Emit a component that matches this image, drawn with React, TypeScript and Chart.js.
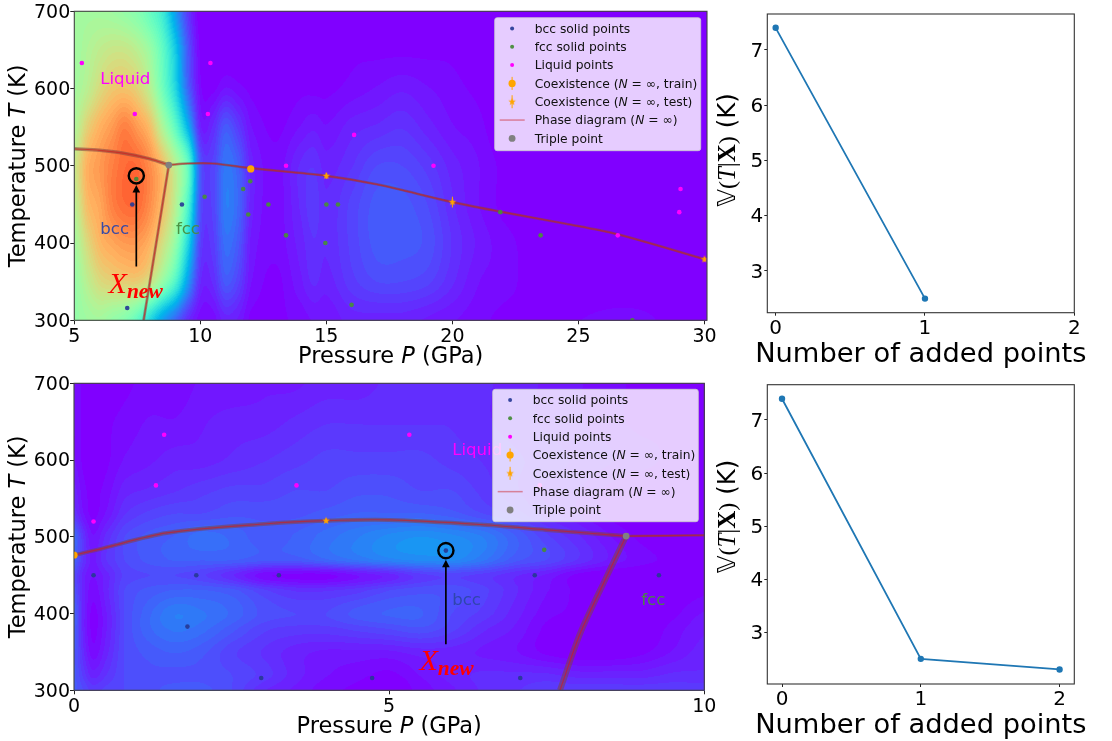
import React, { useEffect, useRef } from "react";
import { Chart, registerables } from "chart.js";

Chart.register(...registerables);
Chart.defaults.font.family = "'DejaVu Sans'";
Chart.defaults.color = "#000";

type Pair = [number, number];

/* ---------- upper phase diagram (5-30 GPa) ---------- */
const topPressureKnots = [5, 5.5, 6, 6.5, 7, 7.5, 8, 8.5, 9, 9.5, 10, 10.5, 11, 11.5, 12, 13, 14, 14.5, 15, 16, 17, 18, 19, 20, 21, 22, 24, 27, 30];
const topTemperatureKnots = [300, 350, 400, 450, 500, 550, 600, 650, 700];
const topVariance = [
  [.55, .57, .58, .55, .52, .45, .33, .22, .14, .06, .02, .02, .05, .04, .01, .01, .02, .03, .03, .05, .05, .05, .04, .03, .02, .01, .01, .02, 0],
  [.55, .62, .68, .70, .71, .71, .66, .55, .42, .22, .06, .06, .12, .09, .03, .01, .04, .06, .05, .08, .10, .10, .09, .06, .03, .02, 0, 0, 0],
  [.58, .68, .75, .78, .80, .80, .76, .67, .55, .33, .09, .08, .15, .12, .04, .02, .05, .07, .06, .09, .12, .12, .11, .07, .04, .02, 0, 0, 0],
  [.62, .74, .78, .84, .87, .87, .82, .74, .62, .42, .11, .09, .17, .14, .05, .02, .06, .08, .06, .09, .12, .12, .10, .06, .03, .01, 0, 0, 0],
  [.65, .76, .80, .84, .87, .87, .82, .74, .62, .46, .12, .09, .16, .13, .05, .02, .06, .07, .05, .07, .10, .10, .08, .05, .03, .01, 0, 0, 0],
  [.60, .70, .76, .80, .84, .80, .74, .60, .45, .26, .05, .06, .12, .08, .03, .01, .03, .04, .03, .05, .06, .07, .05, .03, .02, 0, 0, 0, 0],
  [.58, .62, .68, .72, .73, .70, .62, .48, .33, .14, .02, .01, .03, .02, .01, 0, .01, .01, .01, .02, .03, .04, .03, .02, .01, 0, 0, 0, 0],
  [.57, .60, .63, .65, .65, .62, .56, .45, .30, .12, .01, 0, 0, 0, 0, 0, 0, 0, 0, .01, .01, .01, .01, .01, 0, 0, 0, 0, 0],
  [.58, .58, .58, .57, .55, .52, .46, .38, .22, .08, 0, 0, 0, 0, 0, 0, 0, 0, 0, 0, 0, 0, 0, 0, 0, 0, 0, 0, 0],
];
const topBcc: Pair[] = [[7.3, 450], [9.27, 450], [7.1, 316]];
const topFcc: Pair[] = [[7.46, 483], [10.17, 460], [11.7, 470], [11.98, 480], [11.9, 437], [12.7, 450], [13.4, 410], [15, 450], [15.46, 450], [14.96, 400], [16, 320], [21.9, 440], [23.5, 410], [27.14, 300]];
const topLiquid: Pair[] = [[5.3, 633], [7.4, 567], [10.4, 633], [10.3, 567], [13.4, 500], [16.1, 540], [19.25, 500], [29.05, 470], [29, 440], [26.56, 410]];
const topTrain: Pair[] = [[12, 496]];
const topTrainErr = [3];
const topTest: Pair[] = [[15, 487], [20, 453], [30, 379]];
const topTestErr = [4, 7, 3];
const topTriple: Pair[] = [[8.75, 501]];
const topBccLiquid: Pair[] = [[5, 522], [6, 520], [7, 516], [8, 509], [8.75, 501]];
const topFccLiquid: Pair[] = [[8.75, 501], [9.5, 503], [10.5, 503], [12, 497], [15, 487], [17, 476], [20, 453], [22, 440], [24.5, 425], [26.6, 411], [30, 379]];
const topBccFcc: Pair[] = [[8.75, 501], [8.25, 400], [7.75, 300]];
const topQuery: Pair = [7.46, 487];
const topArrow: [Pair, Pair] = [[7.46, 369.5], [7.46, 475]];
const topXTicks = [5, 10, 15, 20, 25, 30];

/* ---------- lower phase diagram (0-10 GPa) ---------- */
const botPressureKnots = [0, .15, .3, .5, .8, 1.2, 1.6, 2, 2.5, 3, 3.5, 4, 4.5, 5, 5.5, 6, 6.5, 7, 7.5, 8, 8.5, 9, 9.5, 10];
const botTemperatureKnots = [300, 320, 350, 380, 400, 430, 450, 470, 500, 530, 560, 600, 650, 700];
const botVariance = [
  [.12, .10, .08, .09, .10, .11, .12, .12, .10, .06, .04, .02, .01, 0, .02, .04, .06, .07, .08, .08, .08, .08, .08, .08],
  [.12, .08, .05, .07, .10, .11, .11, .11, .10, .08, .05, .03, .02, .01, .03, .05, .06, .06, .06, .05, .05, .05, .06, .06],
  [.12, .06, .02, .05, .10, .12, .13, .12, .09, .07, .05, .04, .04, .04, .05, .05, .04, .03, .01, 0, 0, .01, .03, .05],
  [.13, .05, .01, .04, .10, .14, .16, .15, .12, .09, .08, .08, .09, .10, .11, .09, .06, .04, .01, 0, 0, 0, .02, .04],
  [.13, .05, .01, .04, .10, .14, .17, .16, .14, .11, .10, .10, .12, .13, .13, .10, .08, .05, .02, .01, 0, 0, .01, .03],
  [.11, .05, .02, .05, .10, .12, .13, .13, .12, .09, .07, .07, .08, .10, .11, .11, .09, .06, .03, .01, 0, 0, 0, .01],
  [.10, .05, .03, .05, .09, .10, .10, .09, .06, .02, .01, .01, .03, .05, .08, .09, .08, .06, .04, .01, 0, 0, 0, 0],
  [.13, .07, .04, .07, .10, .12, .13, .13, .13, .12, .12, .14, .16, .18, .19, .19, .16, .12, .10, .07, .04, .02, .01, 0],
  [.14, .07, .03, .06, .10, .12, .13, .15, .14, .12, .13, .15, .17, .19, .20, .19, .17, .13, .09, .06, .03, .01, 0, 0],
  [.07, .03, .01, .03, .07, .09, .10, .10, .11, .11, .11, .12, .13, .13, .13, .12, .10, .08, .05, .03, .01, 0, 0, 0],
  [.05, .02, .01, .02, .05, .06, .07, .08, .09, .09, .10, .10, .11, .11, .10, .10, .08, .06, .04, .03, .01, 0, 0, 0],
  [.03, .01, 0, .01, .03, .04, .05, .05, .06, .07, .08, .09, .09, .09, .09, .08, .07, .06, .05, .04, .03, .02, .01, 0],
  [.03, .01, 0, .01, .02, .03, .03, .04, .05, .05, .06, .07, .07, .07, .07, .07, .06, .05, .04, .03, .02, .01, .01, 0],
  [.03, .01, 0, 0, .01, .02, .02, .03, .03, .04, .04, .05, .05, .06, .06, .07, .06, .05, .04, .03, .02, .01, .01, .01],
];
const botBcc: Pair[] = [[.31, 450], [1.94, 450], [3.25, 450], [1.8, 383], [2.97, 316], [4.73, 316], [5.9, 482], [7.31, 450], [9.28, 450], [7.08, 316]];
const botFcc: Pair[] = [[7.46, 483]];
const botLiquid: Pair[] = [[1.43, 633], [1.3, 567], [.31, 520], [3.53, 567], [5.32, 633], [7.39, 567]];
const botTrain: Pair[] = [[0, 476]];
const botTrainErr = [4];
const botTest: Pair[] = [[4, 521]];
const botTestErr = [3];
const botTriple: Pair[] = [[8.76, 501]];
const botBccLiquid: Pair[] = [[0, 476], [.41, 484], [1.47, 505], [3.06, 517], [4, 521], [5, 522], [6.44, 516], [7.5, 509], [8.76, 501]];
const botFccLiquid: Pair[] = [[8.76, 501], [10, 502]];
const botBccFcc: Pair[] = [[8.76, 501], [8.45, 448], [8.03, 374], [7.71, 300]];
const botQuery: Pair = [5.9, 482];
const botArrow: [Pair, Pair] = [[5.9, 360], [5.9, 470]];
const botXTicks = [0, 5, 10];

const temperatureTicks = [300, 400, 500, 600, 700];

/* ---------- variance curves ---------- */
const topAdded = [0, 1];
const topVarianceCurve = [7.4, 2.5];
const botAdded = [0, 1, 2];
const botVarianceCurve = [7.4, 2.5, 2.3];
const addedTicks = [0, 1, 2];
const varianceTicks = [3, 4, 5, 6, 7];

/* ---------- legend text ---------- */
const legendBcc = "bcc solid points";
const legendFcc = "fcc solid points";
const legendLiquid = "Liquid points";
const legendTriple = "Triple point";

const BCC = "rgba(38,58,150,0.92)";
const FCC = "rgba(72,140,60,0.95)";
const LIQ = "#ff00ff";
const ORANGE = "#ffa500";
const GREY = "#808080";
const BAND = "rgba(130,65,65,0.55)";
const CENTER = "rgba(205,30,30,0.65)";
const SANS = "'DejaVu Sans'";
const SERIF = "'Liberation Serif'";

type Run = { t: string; f: string; dy?: number };

function drawRuns(ctx: CanvasRenderingContext2D, runs: Run[], x: number, y: number, rot = 0, align: "left" | "center" = "center") {
  ctx.save();
  ctx.translate(x, y);
  ctx.rotate(rot);
  ctx.textBaseline = "alphabetic";
  ctx.textAlign = "left";
  let total = 0;
  for (const r of runs) { ctx.font = r.f; total += ctx.measureText(r.t).width; }
  let cx = align === "center" ? -total / 2 : 0;
  for (const r of runs) {
    ctx.font = r.f;
    ctx.fillText(r.t, cx, r.dy ?? 0);
    cx += ctx.measureText(r.t).width;
  }
  ctx.restore();
}

function rainbow(v: number): [number, number, number] {
  const c = (u: number) => Math.max(0, Math.min(255, Math.round(u * 255)));
  return [c(Math.abs(2 * v - 0.5)), c(Math.sin(Math.PI * v)), c(Math.cos((Math.PI * v) / 2))];
}

function fracIndex(knots: number[], x: number) {
  if (x <= knots[0]) return 0;
  for (let i = 0; i < knots.length - 1; i++) {
    if (x <= knots[i + 1]) return i + (x - knots[i]) / (knots[i + 1] - knots[i]);
  }
  return knots.length - 1;
}

function cubic(a: number, b: number, c: number, d: number, t: number) {
  return b + 0.5 * t * (c - a + t * (2 * a - 5 * b + 4 * c - d + t * (3 * (b - c) + d - a)));
}

function sampleGrid(grid: number[][], xk: number[], yk: number[], x: number, y: number) {
  const fx = fracIndex(xk, x), fy = fracIndex(yk, y);
  const ix = Math.min(Math.floor(fx), xk.length - 2), iy = Math.min(Math.floor(fy), yk.length - 2);
  const tx = fx - ix, ty = fy - iy;
  const at = (r: number, c: number) => grid[Math.max(0, Math.min(yk.length - 1, r))][Math.max(0, Math.min(xk.length - 1, c))];
  const rows = [-1, 0, 1, 2].map((dr) => cubic(at(iy + dr, ix - 1), at(iy + dr, ix), at(iy + dr, ix + 1), at(iy + dr, ix + 2), tx));
  return Math.max(0, cubic(rows[0], rows[1], rows[2], rows[3], ty));
}

function heatPlugin(grid: number[][], xk: number[], yk: number[]) {
  return {
    id: "heat",
    beforeDatasetsDraw(chart: any) {
      const { left, top, right, bottom } = chart.chartArea;
      const x0 = Math.floor(left), y0 = Math.floor(top);
      const w = Math.ceil(right) - x0, h = Math.ceil(bottom) - y0;
      const off = document.createElement("canvas");
      off.width = w; off.height = h;
      const octx = off.getContext("2d")!;
      const img = octx.createImageData(w, h);
      const xs = chart.scales.x, ys = chart.scales.y;
      const levels = 70;
      for (let j = 0; j < h; j++) {
        const T = ys.getValueForPixel(y0 + j + 0.5);
        for (let i = 0; i < w; i++) {
          const P = xs.getValueForPixel(x0 + i + 0.5);
          const v = Math.floor(sampleGrid(grid, xk, yk, P, T) * levels) / levels;
          const [r, g, b] = rainbow(v);
          const k = 4 * (j * w + i);
          img.data[k] = r; img.data[k + 1] = g; img.data[k + 2] = b; img.data[k + 3] = 255;
        }
      }
      octx.putImageData(img, 0, 0);
      chart.ctx.drawImage(off, x0, y0);
    },
  };
}

function starImage(r: number, color: string) {
  const c = document.createElement("canvas");
  c.width = c.height = Math.ceil(2 * r + 2);
  const g = c.getContext("2d")!;
  g.translate(c.width / 2, c.height / 2);
  g.beginPath();
  for (let i = 0; i < 10; i++) {
    const rad = i % 2 ? r * 0.42 : r;
    const a = -Math.PI / 2 + (i * Math.PI) / 5;
    g.lineTo(rad * Math.cos(a), rad * Math.sin(a));
  }
  g.closePath();
  g.fillStyle = color;
  g.fill();
  return c;
}

const xy = (pairs: Pair[]) => pairs.map(([x, y]) => ({ x, y }));

function spinePlugin(color: string) {
  return {
    id: "spine",
    afterDatasetsDraw(chart: any) {
      const { left, top, right, bottom } = chart.chartArea;
      const ctx = chart.ctx;
      ctx.save();
      ctx.strokeStyle = color;
      ctx.lineWidth = 1.1;
      ctx.strokeRect(left, top, right - left, bottom - top);
      ctx.restore();
    },
  };
}

type PhaseSpec = {
  area: { canvasH: number; left: number; right: number; top: number; bottom: number };
  xMin: number; xMax: number; xTicks: number[];
  yMin: number; yMax: number;
  grid: number[][]; xk: number[]; yk: number[];
  bcc: Pair[]; fcc: Pair[]; liquid: Pair[]; train: Pair[]; test: Pair[]; triple: Pair[];
  trainErr: number[]; testErr: number[];
  lines: Pair[][]; bandWidths: number[];
  query: Pair; arrow: [Pair, Pair];
  labelLiquid: Pair; labelBcc: Pair; labelFcc: Pair; labelNew: Pair;
  legendBox: { x: number; y: number; w: number; h: number };
};

function phasePlugin(s: PhaseSpec) {
  return {
    id: "phaseOverlay",
    afterDatasetsDraw(chart: any) {
      const ctx: CanvasRenderingContext2D = chart.ctx;
      const xs = chart.scales.x, ys = chart.scales.y;
      const px = (p: Pair): Pair => [xs.getPixelForValue(p[0]), ys.getPixelForValue(p[1])];
      const { left, top, right, bottom } = chart.chartArea;
      ctx.save();
      ctx.beginPath();
      ctx.rect(left, top, right - left, bottom - top);
      ctx.clip();
      // coexistence error bars
      ctx.strokeStyle = ORANGE;
      ctx.lineWidth = 1;
      const bar = (pts: Pair[], errs: number[]) => pts.forEach(([p, t], i) => {
        ctx.beginPath();
        ctx.moveTo(...px([p, t - errs[i]]));
        ctx.lineTo(...px([p, t + errs[i]]));
        ctx.stroke();
      });
      bar(s.train, s.trainErr);
      bar(s.test, s.testErr);
      // region labels
      ctx.textBaseline = "middle";
      ctx.textAlign = "left";
      ctx.font = `16.6px ${SANS}`;
      ctx.fillStyle = LIQ;
      ctx.fillText("Liquid", ...px(s.labelLiquid));
      ctx.fillStyle = "rgba(45,70,170,0.95)";
      ctx.fillText("bcc", ...px(s.labelBcc));
      ctx.fillStyle = "rgba(72,140,60,0.95)";
      ctx.fillText("fcc", ...px(s.labelFcc));
      // query marker and arrow
      const [qx, qy] = px(s.query);
      ctx.strokeStyle = "#000";
      ctx.lineWidth = 2.4;
      ctx.beginPath();
      ctx.arc(qx, qy, 7.6, 0, Math.PI * 2);
      ctx.stroke();
      const [a0, a1] = s.arrow;
      const [ax0, ay0] = px(a0), [ax1, ay1] = px(a1);
      ctx.lineWidth = 1.7;
      ctx.beginPath();
      ctx.moveTo(ax0, ay0);
      ctx.lineTo(ax1, ay1 + 6);
      ctx.stroke();
      ctx.fillStyle = "#000";
      ctx.beginPath();
      ctx.moveTo(ax1, ay1);
      ctx.lineTo(ax1 - 3.8, ay1 + 7.5);
      ctx.lineTo(ax1 + 3.8, ay1 + 7.5);
      ctx.closePath();
      ctx.fill();
      // X_new
      ctx.fillStyle = "#ff0000";
      const [nx, ny] = px(s.labelNew);
      drawRuns(ctx, [
        { t: "X", f: `italic 30px ${SERIF}` },
        { t: "new", f: `italic bold 21.5px ${SERIF}`, dy: 5 },
      ], nx, ny, 0, "left");
      ctx.restore();

      // legend
      const b = s.legendBox;
      ctx.save();
      ctx.fillStyle = "rgba(255,255,255,0.8)";
      ctx.strokeStyle = "rgba(204,204,204,0.8)";
      ctx.lineWidth = 1;
      ctx.beginPath();
      ctx.roundRect(b.x, b.y, b.w, b.h, 2.5);
      ctx.fill();
      ctx.stroke();
      const hx = b.x + 17.4, tx = b.x + 40, f = `12.3px ${SANS}`, fi = `italic 12.3px ${SANS}`;
      const rowY = (i: number) => b.y + 10.7 + i * 18.33;
      const dot = (i: number, r: number, c: string) => {
        ctx.fillStyle = c;
        ctx.beginPath();
        ctx.arc(hx, rowY(i), r, 0, Math.PI * 2);
        ctx.fill();
      };
      dot(0, 2, BCC); dot(1, 2, FCC); dot(2, 2, LIQ);
      ctx.strokeStyle = ORANGE; ctx.lineWidth = 1;
      for (const i of [3, 4]) {
        ctx.beginPath();
        ctx.moveTo(hx, rowY(i) - 6.5);
        ctx.lineTo(hx, rowY(i) + 6.5);
        ctx.stroke();
      }
      dot(3, 3.6, ORANGE);
      const st = starImage(4, ORANGE);
      ctx.drawImage(st, hx - st.width / 2, rowY(4) - st.height / 2);
      ctx.strokeStyle = "rgba(205,60,70,0.55)"; ctx.lineWidth = 1.5;
      ctx.beginPath();
      ctx.moveTo(b.x + 5, rowY(5));
      ctx.lineTo(b.x + 30, rowY(5));
      ctx.stroke();
      dot(6, 3.4, GREY);
      ctx.fillStyle = "#111";
      const put = (i: number, runs: Run[]) => drawRuns(ctx, runs, tx, rowY(i) + 4.4, 0, "left");
      put(0, [{ t: legendBcc, f }]);
      put(1, [{ t: legendFcc, f }]);
      put(2, [{ t: legendLiquid, f }]);
      put(3, [{ t: "Coexistence (", f }, { t: "N", f: fi }, { t: " = \u221E, train)", f }]);
      put(4, [{ t: "Coexistence (", f }, { t: "N", f: fi }, { t: " = \u221E, test)", f }]);
      put(5, [{ t: "Phase diagram (", f }, { t: "N", f: fi }, { t: " = \u221E)", f }]);
      put(6, [{ t: legendTriple, f }]);

      // math-styled axis titles
      ctx.fillStyle = "#000";
      const F = `22.5px ${SANS}`, FI = `italic 22.5px ${SANS}`;
      drawRuns(ctx, [{ t: "Pressure ", f: F }, { t: "P", f: FI }, { t: " (GPa)", f: F }], (left + right) / 2, 362.7);
      drawRuns(ctx, [{ t: "Temperature ", f: F }, { t: "T", f: FI }, { t: " (K)", f: F }], 25, (top + bottom) / 2, -Math.PI / 2);
      ctx.restore();
    },
  };
}

function phaseConfig(s: PhaseSpec): any {
  const a = s.area;
  const lineSets = s.lines.flatMap((l, i) => [
    { data: xy(l), showLine: true, borderColor: BAND, borderWidth: s.bandWidths[i], pointRadius: 0, order: 9, tension: 0.3 },
    { data: xy(l), showLine: true, borderColor: CENTER, borderWidth: 1.2, pointRadius: 0, order: 8, tension: 0.3 },
  ]);
  return {
    type: "scatter",
    data: {
      datasets: [
        ...lineSets,
        { label: legendBcc, data: xy(s.bcc), pointRadius: 2.3, backgroundColor: BCC, borderWidth: 0, order: 5 },
        { label: legendFcc, data: xy(s.fcc), pointRadius: 2.3, backgroundColor: FCC, borderWidth: 0, order: 5 },
        { label: legendLiquid, data: xy(s.liquid), pointRadius: 2.3, backgroundColor: LIQ, borderWidth: 0, order: 5 },
        { data: xy(s.train), pointRadius: 3.6, backgroundColor: ORANGE, borderWidth: 0, order: 3 },
        { data: xy(s.test), pointStyle: starImage(4, ORANGE), pointRadius: 4, order: 3 },
        { label: legendTriple, data: xy(s.triple), pointRadius: 3.4, backgroundColor: GREY, borderWidth: 0, order: 2 },
      ],
    },
    options: {
      animation: false,
      responsive: false,
      layout: { padding: { top: a.top, right: 735 - a.right, left: 0, bottom: 0 } },
      plugins: { legend: { display: false }, tooltip: { enabled: false } },
      scales: {
        x: {
          type: "linear", min: s.xMin, max: s.xMax,
          grid: { drawOnChartArea: false, drawTicks: true, tickLength: 4, color: "#222" },
          border: { display: false },
          afterBuildTicks: (sc: any) => { sc.ticks = s.xTicks.map((value) => ({ value })); },
          afterFit: (sc: any) => { sc.height = a.canvasH - a.bottom; sc.paddingLeft = sc.paddingRight = 0; },
          ticks: { font: { size: 19 }, padding: 1, maxRotation: 0, autoSkip: false, color: "#000" },
        },
        y: {
          type: "linear", min: s.yMin, max: s.yMax,
          grid: { drawOnChartArea: false, drawTicks: true, tickLength: 4, color: "#222" },
          border: { display: false },
          afterBuildTicks: (sc: any) => { sc.ticks = temperatureTicks.map((value) => ({ value })); },
          afterFit: (sc: any) => { sc.width = a.left; sc.paddingTop = sc.paddingBottom = 0; },
          ticks: { font: { size: 19 }, padding: 0, labelOffset: 1.5, color: "#000" },
        },
      },
    },
    plugins: [heatPlugin(s.grid, s.xk, s.yk), spinePlugin("#444"), phasePlugin(s)],
  };
}

function curvePlugin(yTitleCenter: number, xTitleBase: number) {
  return {
    id: "curveTitle",
    afterDraw(chart: any) {
      const ctx = chart.ctx;
      const { left, right } = chart.chartArea;
      ctx.save();
      ctx.fillStyle = "#000";
      const F = `24.5px ${SANS}`;
      drawRuns(ctx, [
        { t: "\u{1D54D}", f: F },
        { t: "(", f: `24px ${SERIF}` },
        { t: "T", f: `italic 25px ${SERIF}` },
        { t: "|", f: `25px ${SERIF}` },
        { t: "X", f: `bold 25px ${SERIF}` },
        { t: ")", f: `24px ${SERIF}` },
        { t: " (K)", f: F },
      ], 25, yTitleCenter, -Math.PI / 2);
      ctx.font = `27.3px ${SANS}`;
      ctx.textAlign = "center";
      ctx.textBaseline = "alphabetic";
      ctx.fillText("Number of added points", (left + right) / 2, xTitleBase);
      ctx.restore();
    },
  };
}

function curveConfig(added: number[], values: number[], a: any, xMin: number, xMax: number, yMin: number, yMax: number): any {
  return {
    type: "scatter",
    data: {
      datasets: [{
        data: added.map((x, i) => ({ x, y: values[i] })),
        showLine: true,
        borderColor: "#1f77b4",
        backgroundColor: "#1f77b4",
        borderWidth: 1.8,
        pointRadius: 2.3,
        borderCapStyle: "round",
      }],
    },
    options: {
      animation: false,
      responsive: false,
      layout: { padding: { top: a.top, right: 402 - a.right, left: 0, bottom: 0 } },
      plugins: { legend: { display: false }, tooltip: { enabled: false } },
      scales: {
        x: {
          type: "linear", min: xMin, max: xMax,
          grid: { drawOnChartArea: false, tickLength: 3, color: "#222" },
          border: { display: false },
          afterBuildTicks: (sc: any) => { sc.ticks = addedTicks.map((value) => ({ value })); },
          afterFit: (sc: any) => { sc.height = a.canvasH - a.bottom; sc.paddingLeft = sc.paddingRight = 0; },
          ticks: { font: { size: 20 }, padding: 1, maxRotation: 0, autoSkip: false, color: "#000" },
        },
        y: {
          type: "linear", min: yMin, max: yMax,
          grid: { drawOnChartArea: false, tickLength: 3, color: "#222" },
          border: { display: false },
          afterBuildTicks: (sc: any) => { sc.ticks = varianceTicks.map((value) => ({ value })); },
          afterFit: (sc: any) => { sc.width = a.left; sc.paddingTop = sc.paddingBottom = 0; },
          ticks: { font: { size: 20 }, padding: 1, labelOffset: 1.5, color: "#000" },
        },
      },
    },
    plugins: [spinePlugin("#333"), curvePlugin(a.yTitle, a.xTitle)],
  };
}

const topSpec: PhaseSpec = {
  area: { canvasH: 370, left: 74.3, right: 707, top: 11.3, bottom: 320.3 },
  xMin: 5, xMax: 30.1, xTicks: topXTicks, yMin: 300, yMax: 700,
  grid: topVariance, xk: topPressureKnots, yk: topTemperatureKnots,
  bcc: topBcc, fcc: topFcc, liquid: topLiquid, train: topTrain, test: topTest, triple: topTriple,
  trainErr: topTrainErr, testErr: topTestErr,
  lines: [topBccLiquid, topFccLiquid, topBccFcc], bandWidths: [3.5, 2.6, 2.8],
  query: topQuery, arrow: topArrow,
  labelLiquid: [6.03, 612], labelBcc: [6.03, 417], labelFcc: [9.03, 417], labelNew: [6.36, 335],
  legendBox: { x: 494.7, y: 17.7, w: 206, h: 133 },
};

const botSpec: PhaseSpec = {
  area: { canvasH: 371, left: 74, right: 704.3, top: 13.3, bottom: 320.3 },
  xMin: 0, xMax: 10, xTicks: botXTicks, yMin: 300, yMax: 700,
  grid: botVariance, xk: botPressureKnots, yk: botTemperatureKnots,
  bcc: botBcc, fcc: botFcc, liquid: botLiquid, train: botTrain, test: botTest, triple: botTriple,
  trainErr: botTrainErr, testErr: botTestErr,
  lines: [botBccLiquid, botFccLiquid, botBccFcc], bandWidths: [4, 2.5, 6],
  query: botQuery, arrow: botArrow,
  labelLiquid: [6, 612], labelBcc: [6, 417], labelFcc: [9, 417], labelNew: [5.48, 327],
  legendBox: { x: 492.7, y: 19.3, w: 205.6, h: 132.4 },
};

function Panel({ left, top, width, height, config }: { left: number; top: number; width: number; height: number; config: () => any }) {
  const ref = useRef<HTMLCanvasElement>(null);
  useEffect(() => {
    const chart = new Chart(ref.current!, config());
    return () => chart.destroy();
  }, []);
  return <canvas ref={ref} width={width} height={height} style={{ position: "absolute", left, top, width, height }} />;
}

export default function App() {
  return (
    <div style={{ position: "absolute", left: 0, top: 0, width: 1112, height: 741, background: "#fff", overflow: "hidden" }}>
      <Panel left={0} top={0} width={735} height={370} config={() => phaseConfig(topSpec)} />
      <Panel left={0} top={370} width={735} height={371} config={() => phaseConfig(botSpec)} />
      <Panel left={710} top={0} width={402} height={370} config={() => curveConfig(topAdded, topVarianceCurve, { canvasH: 370, left: 57.3, right: 364.3, top: 14, bottom: 312.7, yTitle: 150, xTitle: 361.5 }, -0.056, 2, 2.245, 7.65)} />
      <Panel left={710} top={370} width={402} height={371} config={() => curveConfig(botAdded, botVarianceCurve, { canvasH: 371, left: 57.3, right: 364.3, top: 14.7, bottom: 314, yTitle: 146.5, xTitle: 363 }, -0.106, 2.106, 2.026, 7.665)} />
    </div>
  );
}
